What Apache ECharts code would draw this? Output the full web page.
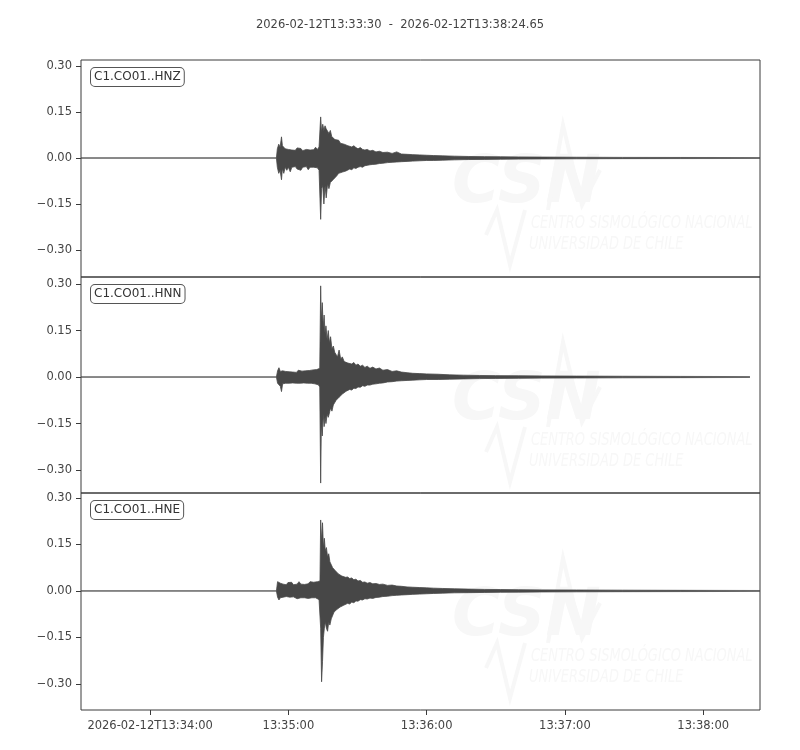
<!DOCTYPE html>
<html>
<head>
<meta charset="utf-8">
<script src="https://cdn.jsdelivr.net/npm/echarts@6/dist/echarts.min.js"></script>
<style>
html, body { margin: 0; padding: 0; background: #fff; }
#main { width: 800px; height: 750px; }
</style>
</head>
<body>
<div id="main"></div>
<script>
// seconds after 2026-02-12T13:33:30, upper / lower envelope of each trace
var hnzTime  = [0, 84.8, 85.2, 85.8, 86.4, 87.0, 87.4, 88.0, 88.6, 89.3, 90.0, 90.8, 91.5, 92.3, 93.0, 93.8, 94.6, 95.4, 96.2, 97.0, 97.8, 98.6, 99.4, 100.2, 101.0, 101.8, 102.6, 103.3, 103.7, 104.0, 104.4, 104.9, 105.4, 105.9, 106.4, 107.0, 107.6, 108.2, 108.8, 109.5, 110.2, 111.0, 111.8, 112.6, 113.4, 114.2, 115.0, 115.8, 116.6, 117.5, 118.4, 119.3, 120.2, 121.2, 122.2, 123.2, 124.2, 125.4, 126.6, 128, 129.5, 131, 133, 135, 137, 139, 141.5, 144, 147, 150, 153, 157, 162, 168, 175, 182, 190, 200, 215, 235, 260, 294.65];
var hnzUpper = [0, 0, 0.03, 0.045, 0.035, 0.069, 0.04, 0.035, 0.03, 0.036, 0.028, 0.032, 0.026, 0.03, 0.025, 0.033, 0.027, 0.031, 0.024, 0.03, 0.028, 0.034, 0.026, 0.03, 0.027, 0.035, 0.028, 0.036, 0.04, 0.134, 0.085, 0.11, 0.09, 0.105, 0.095, 0.1, 0.08, 0.09, 0.07, 0.075, 0.06, 0.055, 0.058, 0.048, 0.052, 0.045, 0.048, 0.04, 0.042, 0.036, 0.04, 0.034, 0.03, 0.034, 0.028, 0.026, 0.028, 0.023, 0.025, 0.02, 0.022, 0.018, 0.019, 0.015, 0.02, 0.013, 0.012, 0.011, 0.01, 0.009, 0.008, 0.007, 0.006, 0.005, 0.0045, 0.004, 0.0035, 0.003, 0.0025, 0.002, 0.0018, 0.0015];
var hnzLower = [0, 0, -0.03, -0.05, -0.04, -0.071, -0.035, -0.05, -0.03, -0.04, -0.03, -0.045, -0.03, -0.035, -0.028, -0.036, -0.03, -0.04, -0.03, -0.033, -0.028, -0.038, -0.03, -0.034, -0.03, -0.036, -0.032, -0.04, -0.045, -0.2, -0.1, -0.09, -0.15, -0.09, -0.13, -0.085, -0.1, -0.08, -0.085, -0.07, -0.065, -0.058, -0.05, -0.055, -0.046, -0.048, -0.042, -0.04, -0.036, -0.038, -0.032, -0.034, -0.03, -0.028, -0.03, -0.025, -0.024, -0.022, -0.021, -0.02, -0.018, -0.017, -0.015, -0.014, -0.013, -0.012, -0.011, -0.01, -0.009, -0.008, -0.008, -0.007, -0.006, -0.005, -0.0045, -0.004, -0.0035, -0.003, -0.0025, -0.002, -0.0018, -0.0015];

var hnnTime  = [0, 84.8, 85.3, 85.9, 86.5, 87.0, 87.5, 88.1, 88.8, 89.5, 90.3, 91.1, 91.9, 92.7, 93.5, 94.3, 95.1, 95.9, 96.7, 97.5, 98.3, 99.1, 99.9, 100.7, 101.5, 102.3, 103.0, 103.6, 104.0, 104.3, 104.7, 105.1, 105.5, 105.9, 106.3, 106.8, 107.3, 107.8, 108.3, 108.9, 109.5, 110.1, 110.7, 111.3, 112.0, 112.7, 113.4, 114.2, 115.0, 115.8, 116.6, 117.5, 118.4, 119.3, 120.2, 121.2, 122.2, 123.2, 124.2, 125.4, 126.6, 128, 129.5, 131, 133, 135, 137, 139, 141.5, 144, 147, 150, 155, 160, 166, 173, 180, 190, 200, 215, 235, 260, 290.3];
var hnnUpper = [0, 0, 0.02, 0.03, 0.018, 0.022, 0.02, 0.025, 0.018, 0.022, 0.017, 0.021, 0.016, 0.02, 0.015, 0.022, 0.017, 0.019, 0.015, 0.02, 0.016, 0.021, 0.017, 0.023, 0.018, 0.024, 0.02, 0.028, 0.294, 0.18, 0.24, 0.16, 0.2, 0.14, 0.165, 0.12, 0.15, 0.11, 0.13, 0.09, 0.1, 0.08, 0.085, 0.065, 0.087, 0.058, 0.065, 0.05, 0.055, 0.045, 0.05, 0.042, 0.047, 0.038, 0.042, 0.035, 0.038, 0.031, 0.035, 0.028, 0.032, 0.026, 0.029, 0.022, 0.024, 0.018, 0.02, 0.016, 0.014, 0.012, 0.011, 0.01, 0.009, 0.007, 0.006, 0.005, 0.0045, 0.004, 0.0035, 0.003, 0.0025, 0.002, 0.0015];
var hnnLower = [0, 0, -0.02, -0.025, -0.03, -0.047, -0.022, -0.025, -0.02, -0.026, -0.02, -0.024, -0.019, -0.023, -0.02, -0.025, -0.02, -0.024, -0.019, -0.022, -0.02, -0.024, -0.02, -0.026, -0.022, -0.028, -0.025, -0.032, -0.342, -0.15, -0.19, -0.12, -0.16, -0.13, -0.15, -0.12, -0.13, -0.116, -0.1, -0.11, -0.09, -0.085, -0.075, -0.08, -0.065, -0.07, -0.055, -0.055, -0.046, -0.048, -0.04, -0.042, -0.036, -0.037, -0.032, -0.033, -0.028, -0.03, -0.026, -0.026, -0.023, -0.022, -0.02, -0.019, -0.016, -0.015, -0.013, -0.012, -0.011, -0.01, -0.009, -0.008, -0.008, -0.007, -0.006, -0.005, -0.0045, -0.004, -0.0035, -0.003, -0.0025, -0.002, -0.0015];

var hneTime  = [0, 84.8, 85.3, 85.9, 86.5, 87.1, 87.7, 88.4, 89.1, 89.8, 90.6, 91.4, 92.2, 93.0, 93.8, 94.6, 95.4, 96.2, 97.0, 97.8, 98.6, 99.4, 100.2, 101.0, 101.8, 102.6, 103.3, 103.7, 104.0, 104.4, 104.8, 105.2, 105.6, 106.0, 106.5, 107.0, 107.5, 108.0, 108.6, 109.2, 109.8, 110.4, 111.0, 111.7, 112.4, 113.2, 114.0, 114.8, 115.7, 116.6, 117.5, 118.4, 119.3, 120.2, 121.2, 122.2, 123.2, 124.2, 125.4, 126.6, 128, 129.5, 131, 133, 135, 137, 139, 141.5, 144, 147, 150, 153, 157, 162, 168, 175, 182, 190, 200, 215, 235, 260, 294.65];
var hneUpper = [0, 0, 0.03, 0.035, 0.025, 0.03, 0.022, 0.028, 0.02, 0.027, 0.021, 0.028, 0.02, 0.026, 0.022, 0.03, 0.022, 0.026, 0.021, 0.025, 0.023, 0.03, 0.024, 0.028, 0.025, 0.03, 0.027, 0.032, 0.229, 0.16, 0.22, 0.14, 0.17, 0.13, 0.14, 0.11, 0.12, 0.094, 0.1, 0.075, 0.08, 0.065, 0.07, 0.055, 0.058, 0.048, 0.052, 0.044, 0.045, 0.04, 0.042, 0.036, 0.038, 0.032, 0.034, 0.028, 0.029, 0.025, 0.027, 0.023, 0.024, 0.021, 0.022, 0.018, 0.019, 0.016, 0.015, 0.013, 0.012, 0.011, 0.01, 0.009, 0.008, 0.007, 0.006, 0.005, 0.0045, 0.004, 0.0035, 0.003, 0.0025, 0.002, 0.0015];
var hneLower = [0, 0, -0.02, -0.029, -0.022, -0.025, -0.02, -0.024, -0.018, -0.022, -0.02, -0.024, -0.019, -0.022, -0.025, -0.02, -0.022, -0.018, -0.022, -0.02, -0.024, -0.02, -0.022, -0.025, -0.022, -0.026, -0.028, -0.03, -0.12, -0.293, -0.228, -0.15, -0.12, -0.1, -0.12, -0.13, -0.1, -0.11, -0.09, -0.085, -0.068, -0.072, -0.06, -0.065, -0.052, -0.055, -0.046, -0.048, -0.04, -0.042, -0.036, -0.038, -0.032, -0.033, -0.028, -0.029, -0.025, -0.026, -0.023, -0.024, -0.021, -0.02, -0.018, -0.017, -0.015, -0.014, -0.013, -0.012, -0.011, -0.01, -0.009, -0.008, -0.007, -0.006, -0.0055, -0.0048, -0.0042, -0.0038, -0.0032, -0.0028, -0.0023, -0.002, -0.0015];

var channels = ['C1.CO01..HNZ', 'C1.CO01..HNN', 'C1.CO01..HNE'];
var xTicks = [30, 90, 150, 210, 270];
var xTickLabels = ['2026-02-12T13:34:00', '13:35:00', '13:36:00', '13:37:00', '13:38:00'];
var yTicks = [-0.3, -0.15, 0, 0.15, 0.3];
var titleText = '2026-02-12T13:33:30  -  2026-02-12T13:38:24.65';

var traces = [
	[hnzTime, hnzUpper, hnzLower],
	[hnnTime, hnnUpper, hnnLower],
	[hneTime, hneUpper, hneLower]
];

var FONT = 'DejaVu Sans';
var TRACE = '#474747';
var WM = '#f7f7f7';   // watermark grey
var gridTops = [60, 277, 493];
var gridHeights = [217, 216, 217];
var yMin = [-0.388, -0.374, -0.384];
var yMax = [0.3196, 0.3226, 0.316];

var myChart = echarts.init(document.getElementById('main'), null, { renderer: 'canvas' });

var grids = [], xAxes = [], yAxes = [], series = [], graphics = [];

for (var k = 0; k < 3; k++) {
	var last = (k == 2);
	grids.push({
		left: 81, width: 679, top: gridTops[k], height: gridHeights[k],
		show: true, borderColor: '#3a3a3a', borderWidth: 1, backgroundColor: 'transparent'
	});
	xAxes.push({
		type: 'value', gridIndex: k, min: 0, max: 294.65, position: 'bottom',
		axisLine: { show: false, onZero: false },
		splitLine: { show: false },
		axisTick: { show: last, length: 5, lineStyle: { color: '#3a3a3a' }, customValues: xTicks },
		axisLabel: {
			show: last, margin: 10, fontFamily: FONT, fontSize: 11.5, color: '#444',
			customValues: xTicks,
			formatter: function (v) {
				var i = xTicks.indexOf(Math.round(v));
				return i >= 0 ? xTickLabels[i] : '';
			}
		}
	});
	yAxes.push({
		type: 'value', gridIndex: k, min: yMin[k], max: yMax[k],
		axisLine: { show: false, onZero: false },
		splitLine: { show: false },
		axisTick: { show: true, length: 5, lineStyle: { color: '#3a3a3a' }, customValues: yTicks },
		axisLabel: {
			margin: 9, fontFamily: FONT, fontSize: 11.5, color: '#444',
			customValues: yTicks,
			formatter: function (v) {
				var s = Math.abs(v).toFixed(2);
				return v < -1e-9 ? '\u2212' + s : s;
			}
		}
	});
	var t = traces[k][0], up = traces[k][1], lo = traces[k][2];
	var upData = t.map(function (x, i) { return [x, up[i]]; });
	var loData = t.map(function (x, i) { return [x, lo[i]]; });
	[upData, loData].forEach(function (d) {
		series.push({
			type: 'line', xAxisIndex: k, yAxisIndex: k, data: d,
			showSymbol: false, silent: true, animation: false, z: 3,
			lineStyle: { color: TRACE, width: 0.8 },
			areaStyle: { color: TRACE, opacity: 1, origin: 0 }
		});
	});

	// channel label box
	graphics.push({
		type: 'text', left: 90, top: gridTops[k] + 7, z: 10,
		style: {
			text: channels[k], font: '12px "DejaVu Sans"', fill: '#333',
			backgroundColor: '#fff', borderColor: '#555', borderWidth: 1,
			borderRadius: 4, padding: [3, 3, 3, 3]
		}
	});

	// faint CSN watermark
	var oy = gridTops[k];
	graphics.push({
		type: 'text', x: 452, y: oy + 92, z: 0, silent: true,
		style: { text: 'CSN', font: 'italic bold 66px "DejaVu Sans"', fill: WM }
	});
	graphics.push({
		type: 'polyline', z: 0, silent: true,
		shape: { points: [[548, oy + 150], [563, oy + 65], [582, oy + 145], [600, oy + 110]] },
		style: { stroke: WM, lineWidth: 4, fill: null }
	});
	graphics.push({
		type: 'polyline', z: 0, silent: true,
		shape: { points: [[486, oy + 175], [497, oy + 150], [510, oy + 205], [525, oy + 150]] },
		style: { stroke: WM, lineWidth: 4, fill: null }
	});
	graphics.push({
		type: 'text', x: 531, y: oy + 154, scaleX: 0.72, z: 0, silent: true,
		style: { text: 'CENTRO SISMOLÓGICO NACIONAL', font: 'italic 18px "DejaVu Sans"', fill: WM }
	});
	graphics.push({
		type: 'text', x: 529, y: oy + 175, scaleX: 0.72, z: 0, silent: true,
		style: { text: 'UNIVERSIDAD DE CHILE', font: 'italic 18px "DejaVu Sans"', fill: WM }
	});
}

var option = {
	backgroundColor: '#fff',
	animation: false,
	title: {
		text: titleText, left: 'center', top: 14,
		textStyle: { fontFamily: FONT, fontSize: 11.5, fontWeight: 'normal', color: '#444' }
	},
	grid: grids,
	xAxis: xAxes,
	yAxis: yAxes,
	series: series,
	graphic: graphics
};

myChart.setOption(option);
</script>
</body>
</html>
